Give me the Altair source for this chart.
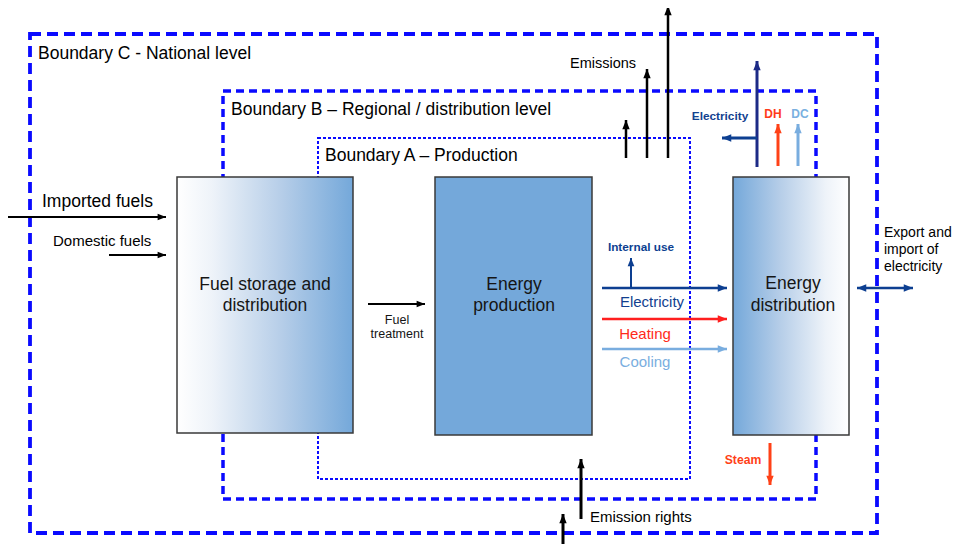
import math
import altair as alt
import pandas as pd

FONT = "Liberation Sans"

# ---------------- boundaries (dashed frames) ----------------
boundary_names = ["Boundary C", "Boundary B", "Boundary A"]
boundary_x0 = [30, 223, 318]
boundary_x1 = [877, 816, 690]
boundary_y0 = [34, 91, 138]
boundary_y1 = [533, 499, 479]
boundary_width = [3.8, 3.5, 2.0]
boundary_dash = [[11, 6], [8, 5], [3, 2]]

# ---------------- process boxes ----------------
box_names = ["Fuel storage", "Energy production", "Energy distribution"]
box_x0 = [177, 435, 733]
box_x1 = [353, 592, 849]
box_y0 = [177, 177, 177]
box_y1 = [433, 435, 435]

# ---------------- arrows ----------------
arrow_name = ["imported", "domestic", "treatment", "internal", "elec", "heat", "cool",
              "export", "em1", "em2", "em3", "elec_up", "elec_left", "dh", "dc",
              "steam", "rights1", "rights2"]
arrow_x1 = [8, 109, 368, 631, 602, 602, 602, 857, 626, 647, 668, 757, 757, 778, 798, 770, 581, 563]
arrow_y1 = [217, 255, 304, 288, 288, 319, 349, 288, 158, 158, 158, 167, 138, 166, 166, 443, 519, 560]
arrow_x2 = [166, 166, 425, 631, 727, 727, 727, 913, 626, 647, 668, 757, 722, 778, 798, 770, 581, 563]
arrow_y2 = [217, 255, 304, 258, 288, 319, 349, 288, 120, 69, 6, 61, 138, 124, 124, 485, 459, 514]
arrow_color = ["#000000", "#000000", "#000000", "#0d3f91", "#0d3f91", "#ff1f1f", "#79addf",
               "#0d3f91", "#000000", "#000000", "#000000", "#1c2a86", "#0d3f91", "#ff4117",
               "#79addf", "#ff4117", "#000000", "#000000"]
arrow_width = [2, 2, 2, 2, 2.5, 2.5, 2.5, 2.5, 2.5, 2.5, 2.5, 3, 3, 3, 3, 3, 3, 3]
arrow_both = [False] * 7 + [True] + [False] * 10

# ---------------- texts: left aligned ----------------
text_label = ["Boundary C - National level", "Boundary B \u2013 Regional / distribution level",
              "Boundary A \u2013 Production", "Imported fuels", "Domestic fuels",
              "Export and", "import of", "electricity", "Emission rights"]
text_x = [38, 231, 325, 42, 53, 884, 884, 884, 590]
text_y = [53.5, 109.5, 156, 202, 241, 233, 250, 267, 517]
text_size = [17.5, 17.5, 17.5, 17.5, 15, 14, 14, 14, 15]
text_color = ["#000000"] * 9

# ---------------- texts: centred, regular ----------------
ctext_label = ["Fuel storage and", "distribution", "Fuel", "treatment", "Energy", "production",
               "Energy", "distribution", "Electricity", "Heating", "Cooling", "Emissions"]
ctext_x = [265, 265, 397, 397, 514, 514, 793, 793, 652, 645, 645, 603]
ctext_y = [285, 306, 320, 334, 285, 306, 284, 306, 302, 334, 362, 64]
ctext_size = [17.5, 17.5, 12.5, 12.5, 17.5, 17.5, 17.5, 17.5, 15, 15, 15, 14.5]
ctext_color = ["#151515"] * 8 + ["#123f8f", "#ff2a1a", "#7aaee0", "#000000"]

# ---------------- texts: centred, bold small labels ----------------
btext_label = ["Internal use", "Electricity", "DH", "DC", "Steam"]
btext_x = [641, 720, 773, 800, 743]
btext_y = [247, 116, 114, 114, 460]
btext_size = [11.8, 11.8, 12, 12, 12.2]
btext_color = ["#0d3f91", "#12418f", "#ff3b1a", "#7ab0e0", "#ff4117"]

# ---------------- scales ----------------
X0, X1, Y0, Y1 = 8, 953, 8, 544
xs = alt.Scale(domain=[X0, X1], nice=False, zero=False)
ys = alt.Scale(domain=[Y0, Y1], nice=False, zero=False, reverse=True)


def X(f):
    return alt.X(f, type="quantitative", scale=xs, axis=None)


def Y(f):
    return alt.Y(f, type="quantitative", scale=ys, axis=None)


layers = []

# boundaries
for i, name in enumerate(boundary_names):
    df = pd.DataFrame({"name": [name], "x": [boundary_x0[i]], "x2": [boundary_x1[i]],
                       "y": [boundary_y0[i]], "y2": [boundary_y1[i]]})
    layers.append(
        alt.Chart(df).mark_rect(fillOpacity=0, stroke="#0a0aff", strokeWidth=boundary_width[i],
                                strokeDash=boundary_dash[i], strokeJoin="miter")
        .encode(x=X("x"), x2="x2", y=Y("y"), y2="y2")
    )

# boxes
blue = "#74a8da"
fills = [
    alt.Gradient(gradient="linear", x1=0, x2=1, y1=0, y2=0,
                 stops=[alt.GradientStop(color="#ffffff", offset=0),
                        alt.GradientStop(color="#eef3f9", offset=0.2),
                        alt.GradientStop(color="#b5cde8", offset=0.6),
                        alt.GradientStop(color=blue, offset=1)]),
    blue,
    alt.Gradient(gradient="linear", x1=0, x2=1, y1=0, y2=0,
                 stops=[alt.GradientStop(color=blue, offset=0),
                        alt.GradientStop(color="#b5cde8", offset=0.4),
                        alt.GradientStop(color="#eef3f9", offset=0.8),
                        alt.GradientStop(color="#ffffff", offset=1)]),
]
for i, name in enumerate(box_names):
    df = pd.DataFrame({"name": [name], "x": [box_x0[i]], "x2": [box_x1[i]],
                       "y": [box_y0[i]], "y2": [box_y1[i]]})
    layers.append(
        alt.Chart(df).mark_rect(fill=fills[i], stroke="#3a3a3a", strokeWidth=1.5)
        .encode(x=X("x"), x2="x2", y=Y("y"), y2="y2")
    )

# arrows
arr = pd.DataFrame({"name": arrow_name, "x": arrow_x1, "y": arrow_y1, "x2": arrow_x2,
                    "y2": arrow_y2, "color": arrow_color, "w": arrow_width})
layers.append(
    alt.Chart(arr).mark_rule(strokeCap="butt")
    .encode(x=X("x"), y=Y("y"), x2="x2", y2="y2",
            color=alt.Color("color:N", scale=None),
            strokeWidth=alt.StrokeWidth("w:Q", scale=None))
)

heads = []
for i in range(len(arrow_name)):
    dx = arrow_x2[i] - arrow_x1[i]
    dy = arrow_y2[i] - arrow_y1[i]
    ang = math.degrees(math.atan2(dx, -dy)) % 360
    sz = 70 if arrow_width[i] <= 2 else 85
    heads.append({"x": arrow_x2[i], "y": arrow_y2[i], "angle": ang,
                  "color": arrow_color[i], "size": sz})
    if arrow_both[i]:
        heads.append({"x": arrow_x1[i], "y": arrow_y1[i], "angle": (ang + 180) % 360,
                      "color": arrow_color[i], "size": sz})
hd = pd.DataFrame(heads)
layers.append(
    alt.Chart(hd).mark_point(shape="M0,0L0.8,2L-0.8,2Z", filled=True, opacity=1, strokeWidth=0)
    .encode(x=X("x"), y=Y("y"),
            angle=alt.Angle("angle:Q", scale=None),
            color=alt.Color("color:N", scale=None),
            size=alt.Size("size:Q", scale=None))
)

# texts
lt = pd.DataFrame({"t": text_label, "x": text_x, "y": text_y, "s": text_size, "c": text_color})
layers.append(
    alt.Chart(lt).mark_text(align="left", baseline="middle", font=FONT)
    .encode(x=X("x"), y=Y("y"), text="t:N",
            size=alt.Size("s:Q", scale=None), color=alt.Color("c:N", scale=None))
)
ct = pd.DataFrame({"t": ctext_label, "x": ctext_x, "y": ctext_y, "s": ctext_size, "c": ctext_color})
layers.append(
    alt.Chart(ct).mark_text(align="center", baseline="middle", font=FONT)
    .encode(x=X("x"), y=Y("y"), text="t:N",
            size=alt.Size("s:Q", scale=None), color=alt.Color("c:N", scale=None))
)
bt = pd.DataFrame({"t": btext_label, "x": btext_x, "y": btext_y, "s": btext_size, "c": btext_color})
layers.append(
    alt.Chart(bt).mark_text(align="center", baseline="middle", font=FONT, fontWeight="bold")
    .encode(x=X("x"), y=Y("y"), text="t:N",
            size=alt.Size("s:Q", scale=None), color=alt.Color("c:N", scale=None))
)

chart = (
    alt.layer(*layers)
    .properties(width=X1 - X0, height=Y1 - Y0, padding=0, autosize="none",
                background="white")
    .configure_view(stroke=None)
)

chart.save("out.html", embed_options={"renderer": "svg", "actions": False})
